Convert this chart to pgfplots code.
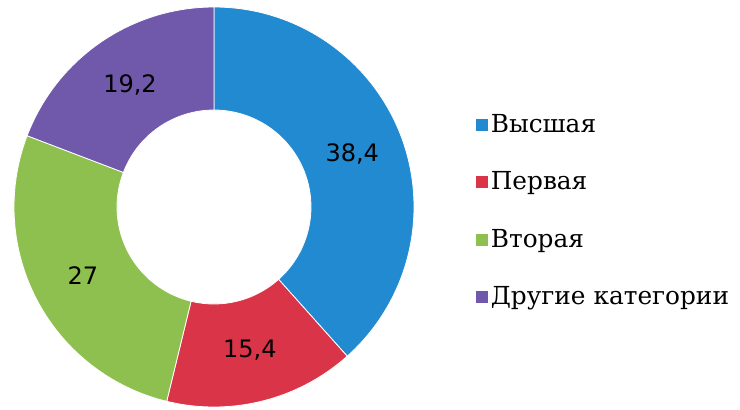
\documentclass[border=0pt]{standalone}
\usepackage{fontspec}
\setmainfont{DejaVu Serif}
\newfontfamily\lblfont{DejaVu Sans}
\usepackage{pgfplots}
\usepackage{pgfplotstable}
\pgfplotsset{compat=1.18}
\definecolor{cBlue}{RGB}{33,138,208}
\definecolor{cRed}{RGB}{218,52,72}
\definecolor{cGreen}{RGB}{142,192,80}
\definecolor{cPurple}{RGB}{112,88,170}
\pgfplotstableread{
idx value
0 38.4
1 15.4
2 27
3 19.2
}\data
\pgfplotstablegetelem{0}{value}\of\data \let\vA\pgfplotsretval
\pgfplotstablegetelem{1}{value}\of\data \let\vB\pgfplotsretval
\pgfplotstablegetelem{2}{value}\of\data \let\vC\pgfplotsretval
\pgfplotstablegetelem{3}{value}\of\data \let\vD\pgfplotsretval
\pgfmathsetmacro\aA{90}
\pgfmathsetmacro\aB{\aA-3.6*\vA}
\pgfmathsetmacro\aC{\aB-3.6*\vB}
\pgfmathsetmacro\aD{\aC-3.6*\vC}
\pgfmathsetmacro\aE{\aD-3.6*\vD}
\pgfmathsetmacro\mA{(\aA+\aB)/2}
\pgfmathsetmacro\mB{(\aB+\aC)/2}
\pgfmathsetmacro\mC{(\aC+\aD)/2}
\pgfmathsetmacro\mD{(\aD+\aE)/2}
\def\cx{214}
\def\cy{207}
\def\Ro{100pt}
\def\Ri{48.5pt}
\newcommand\sector[5]{%
  \fill[#3,draw=white,line width=0.4pt] ([shift={(#1:\Ro)}]axis cs:\cx,\cy) arc[start angle=#1,end angle=#2,radius=\Ro]
    -- ([shift={(#2:\Ri)}]axis cs:\cx,\cy) arc[start angle=#2,end angle=#1,radius=\Ri] -- cycle;
  \node[font=\lblfont\fontsize{12}{14}\selectfont,text=black] at ([shift={(#5:74pt)}]axis cs:\cx,\cy) {\pgfmathprintnumber[use comma,assume math mode=true]{#4}};
}
\begin{document}
\begin{tikzpicture}
\begin{axis}[
  width=370pt, height=204.5pt, scale only axis,
  xmin=0, xmax=740, ymin=0, ymax=409, y dir=reverse,
  hide axis,
  legend image code/.code={\fill[#1] (0pt,-3pt) rectangle (6pt,3pt);},
  legend style={at={(0.643,0.730)}, anchor=north west, draw=none, fill=none,
    inner sep=0pt, outer sep=0pt,
    font=\fontsize{12.4}{14}\selectfont, row sep=14.1pt,
    nodes={inner xsep=1.5pt, inner ysep=2pt}},
  legend cell align=left,
]
\path (axis cs:0,0) rectangle (axis cs:740,409);
\addlegendimage{fill=cBlue,draw=none}
\addlegendentry{Высшая}
\addlegendimage{fill=cRed,draw=none}
\addlegendentry{Первая}
\addlegendimage{fill=cGreen,draw=none}
\addlegendentry{Вторая}
\addlegendimage{fill=cPurple,draw=none}
\addlegendentry{Другие категории}
\sector{\aA}{\aB}{cBlue}{\vA}{\mA}
\sector{\aB}{\aC}{cRed}{\vB}{\mB}
\sector{\aC}{\aD}{cGreen}{\vC}{\mC}
\sector{\aD}{\aE}{cPurple}{\vD}{\mD}
\end{axis}
\end{tikzpicture}
\end{document}
